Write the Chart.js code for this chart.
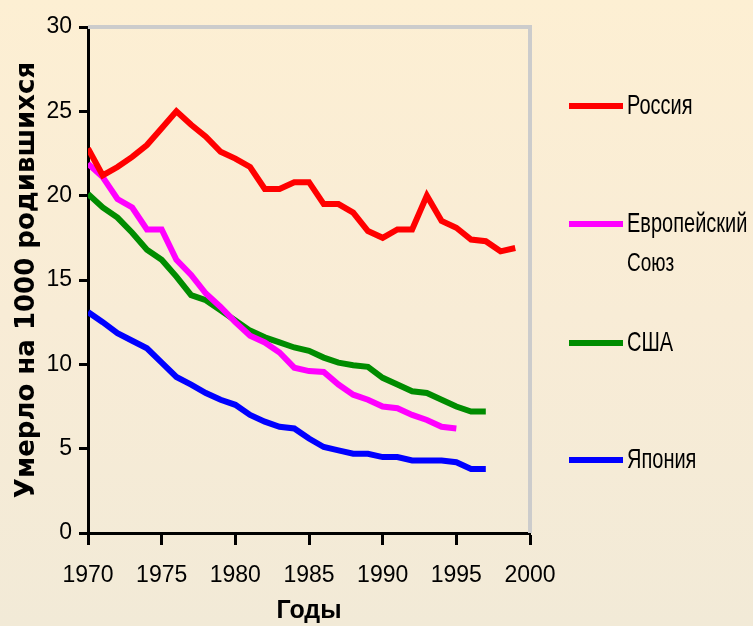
<!DOCTYPE html>
<html>
<head>
<meta charset="utf-8">
<script src="https://cdn.jsdelivr.net/npm/chart.js@4/dist/chart.umd.min.js"></script>
<style>
  html, body { margin: 0; padding: 0; }
  body {
    width: 753px; height: 626px; overflow: hidden; position: relative;
    background: linear-gradient(180deg, #fdefd3 0%, #f8ecd6 50%, #f2ead7 100%);
    font-family: "Liberation Sans", Arial, sans-serif;
  }
  #wrap { position: absolute; left: 0; top: 0; width: 753px; height: 626px; }
  #legend { position: absolute; left: 569px; top: 0; }
  .lg { position: absolute; left: 0; white-space: nowrap; }
  .lg i { position: absolute; left: 0; width: 54px; height: 6px; }
  .lg span, .lg small {
    position: absolute; left: 58px; color: #000;
    transform: scaleY(1.35); transform-origin: left center;
  }
  .lg span { font-size: 20px; line-height: 24px; }
  .lg small { font-size: 19px; line-height: 22px; }
</style>
</head>
<body>
<div id="wrap"><canvas id="chart" width="753" height="626"></canvas></div>
<div id="legend"></div>
<script>
// годы и значения (умерло на 1000 родившихся)
const years = [1970, 1971, 1972, 1973, 1974, 1975, 1976, 1977, 1978, 1979,
               1980, 1981, 1982, 1983, 1984, 1985, 1986, 1987, 1988, 1989,
               1990, 1991, 1992, 1993, 1994, 1995, 1996, 1997, 1998, 1999];
const russia = [22.8, 21.2, 21.7, 22.3, 23.0, 24.0, 25.0, 24.2, 23.5, 22.6,
                22.2, 21.7, 20.4, 20.4, 20.8, 20.8, 19.5, 19.5, 19.0, 17.9,
                17.5, 18.0, 18.0, 20.0, 18.5, 18.1, 17.4, 17.3, 16.7, 16.9];
const eu = [21.9, 21.1, 19.8, 19.3, 18.0, 18.0, 16.2, 15.3, 14.2, 13.4,
            12.5, 11.7, 11.3, 10.7, 9.8, 9.6, 9.55, 8.8, 8.2, 7.9,
            7.5, 7.4, 7.0, 6.7, 6.3, 6.2];
const usa = [20.1, 19.3, 18.7, 17.8, 16.8, 16.2, 15.2, 14.1, 13.8, 13.2,
             12.6, 12.0, 11.6, 11.3, 11.0, 10.8, 10.4, 10.1, 9.95, 9.85,
             9.2, 8.8, 8.4, 8.3, 7.9, 7.5, 7.2, 7.2];
const japan = [13.1, 12.5, 11.85, 11.4, 10.95, 10.1, 9.25, 8.8, 8.3, 7.9,
               7.6, 7.0, 6.6, 6.3, 6.2, 5.6, 5.1, 4.9, 4.7, 4.7,
               4.5, 4.5, 4.3, 4.3, 4.3, 4.2, 3.8, 3.8];
const yTicks = [0, 5, 10, 15, 20, 25, 30];
const xTicks = [1970, 1975, 1980, 1985, 1990, 1995, 2000];

const series = [
  { label: "Россия", sub: "", data: russia, color: "#ff0000" },
  { label: "Европейский", sub: "Союз", data: eu, color: "#ff00ff" },
  { label: "США", sub: "", data: usa, color: "#008c00" },
  { label: "Япония", sub: "", data: japan, color: "#0000ff" },
];

const tickFont = { family: "'Liberation Sans', Arial", size: 23 };

// серые линии рамки сверху и справа
const framePlugin = {
  id: "frame",
  beforeDatasetsDraw(chart) {
    const { ctx, chartArea: a } = chart;
    ctx.save();
    ctx.strokeStyle = "#cccccc";
    ctx.lineWidth = 4;
    ctx.beginPath();
    ctx.moveTo(a.left, a.top);
    ctx.lineTo(a.right, a.top);
    ctx.lineTo(a.right, a.bottom);
    ctx.stroke();
    ctx.restore();
  },
};

const chart = new Chart(document.getElementById("chart"), {
  type: "line",
  data: {
    datasets: series.map((s) => ({
      label: s.label,
      data: s.data.map((v, i) => ({ x: years[i], y: v })),
      borderColor: s.color,
      backgroundColor: s.color,
      borderWidth: 6,
      pointRadius: 0,
      tension: 0,
      fill: false,
    })),
  },
  options: {
    responsive: false,
    animation: false,
    layout: { padding: { top: 27, right: 223, left: 0, bottom: 0 } },
    plugins: { legend: { display: false }, tooltip: { enabled: false } },
    scales: {
      x: {
        type: "linear", min: 1970, max: 2000,
        afterBuildTicks: (axis) => { axis.ticks = xTicks.map((v) => ({ value: v })); },
        afterFit: (axis) => { axis.height = 93; },
        ticks: { color: "#000", font: tickFont, padding: 17, maxRotation: 0, callback: (v) => String(v) },
        grid: { drawOnChartArea: false, drawTicks: true, tickLength: 12, tickWidth: 3, color: "#000" },
        border: { display: true, color: "#000", width: 3 },
        title: { display: true, text: "Годы", color: "#000", padding: { top: 0, bottom: 0 },
                 font: { family: "'Liberation Sans', Arial", size: 25, weight: "bold" } },
      },
      y: {
        min: 0, max: 30,
        afterBuildTicks: (axis) => { axis.ticks = yTicks.map((v) => ({ value: v })); },
        afterFit: (axis) => { axis.width = 88; },
        ticks: { color: "#000", font: tickFont, padding: 7 },
        grid: { drawOnChartArea: false, drawTicks: true, tickLength: 9, tickWidth: 3, color: "#000" },
        border: { display: true, color: "#000", width: 3 },
        title: { display: true, text: "Умерло на 1000 родившихся", color: "#000", padding: { top: 12, bottom: 0 },
                 font: { family: "'DejaVu Sans', Arial", size: 26, weight: "bold" } },
      },
    },
  },
  plugins: [framePlugin],
});

// легенда справа
const legendTops = [106, 224, 343, 460];
const lg = document.getElementById("legend");
series.forEach((s, i) => {
  const d = document.createElement("div");
  d.className = "lg";
  d.style.top = legendTops[i] + "px";
  d.innerHTML = `<i style="background:${s.color};top:-3px"></i><span style="top:-13px">${s.label}</span>` +
                (s.sub ? `<small style="top:28px">${s.sub}</small>` : "");
  lg.appendChild(d);
});
</script>
</body>
</html>
